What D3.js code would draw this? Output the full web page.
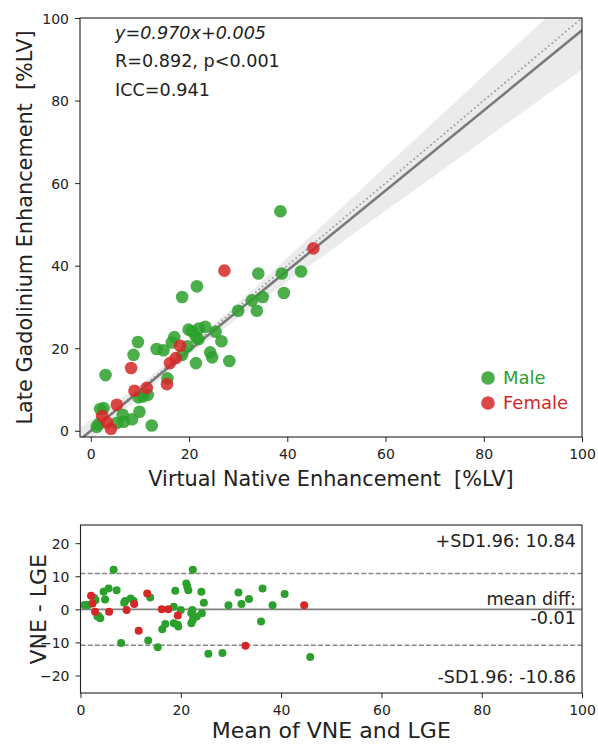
<!DOCTYPE html>
<html>
<head>
<meta charset="utf-8">
<script src="https://cdn.jsdelivr.net/npm/d3@7"></script>
<style>
  body { margin: 0; background: #fff; }
  svg { display: block; font-family: "DejaVu Sans", sans-serif; }
</style>
</head>
<body>
<div id="chart"></div>
<script>
// Values

// Correlation panel: [VNE, LGE]
const maleTop = [
  [21.6, 35.0], [18.6, 32.4], [39.3, 33.4], [32.8, 31.6], [35.0, 32.4], [30.0, 29.1],
  [33.8, 29.1], [9.6, 21.5], [8.7, 18.4], [3.0, 13.5], [13.4, 19.8], [14.8, 19.5],
  [17.0, 22.7], [16.5, 21.4], [19.9, 24.5], [20.6, 24.1], [22.0, 24.8], [23.3, 25.2],
  [25.4, 24.0], [26.6, 21.7], [21.4, 22.7], [21.9, 22.2], [19.7, 20.5], [18.6, 18.4],
  [24.3, 19.0], [24.7, 17.8], [21.4, 16.4], [28.2, 16.9], [15.6, 12.7], [9.7, 8.1],
  [11.6, 8.7], [10.6, 8.3], [1.9, 5.3], [2.6, 5.5], [6.5, 3.9], [8.4, 2.8],
  [9.9, 4.6], [12.4, 1.3], [1.2, 1.0], [5.3, 1.9], [6.7, 2.2], [1.6, 1.6],
  [38.6, 53.2], [34.1, 38.1], [38.9, 38.1], [42.8, 38.6]
];
const femaleTop = [
  [18.2, 20.6], [17.3, 17.6], [16.1, 16.4], [8.2, 15.2], [8.9, 9.7], [11.4, 10.4],
  [15.5, 11.3], [5.3, 6.3], [2.3, 3.6], [3.3, 2.0], [4.1, 0.5], [27.2, 38.8], [45.3, 44.2]
];

// Fit shown in the panel
const fitSlope = 0.970;
const fitIntercept = 0.005;
const fitRange = [-2.2, 100];

// Confidence band edges [VNE, lower, upper]
const bandEdges = [
  [-2.2, -4.66, 0.77], [10, 8.35, 11.18], [20, 18.38, 20.45], [30, 27.4, 31.0],
  [40, 36.1, 41.9], [50, 44.7, 52.9], [60, 53.3, 64.0], [70, 61.8, 75.0],
  [80, 70.4, 86.0], [90, 79.0, 97.1], [100, 87.5, 108.1]
];

// Bland-Altman panel: [mean, difference]
const maleBA = [
  [0.8, 1.3], [1.5, 1.3], [2.7, 3.5], [3.0, 2.8], [3.4, -2.2], [3.95, -2.7], [3.6, -2.0],
  [4.6, 5.3], [4.9, 3.0], [5.6, 6.3], [7.2, 5.8], [6.6, 12.0], [8.1, -10.2], [8.9, 2.5],
  [8.7, 2.0], [10.0, 3.3], [10.6, 2.5], [13.9, 3.6], [13.5, -9.4], [15.4, -11.5],
  [16.3, -6.0], [16.9, -4.4], [18.9, 5.6], [18.6, 0.8], [18.6, -4.2], [19.4, -4.7],
  [19.5, -5.2], [20.0, -0.2], [21.1, 7.8], [21.3, 6.8], [21.5, 5.8], [22.1, -1.2],
  [22.3, -0.2], [22.1, -4.2], [22.4, -3.2], [23.2, -2.2], [24.2, -1.2], [24.1, 5.3],
  [24.6, 2.0], [22.4, 12.0], [25.5, -13.4], [28.3, -13.2], [29.5, 1.2], [31.5, 5.1],
  [32.1, 1.6], [33.6, 3.1], [36.0, -3.7], [36.3, 6.3], [38.3, 1.2], [40.7, 4.6], [45.8, -14.4]
];
const femaleBA = [
  [2.1, 4.1], [2.4, 1.8], [2.9, -0.7], [5.7, -0.7], [9.2, -0.2], [10.7, 1.6], [13.3, 4.8],
  [11.6, -6.5], [16.2, 0.0], [17.5, 0.0], [19.4, -1.9], [32.9, -11.0], [44.6, 1.2]
];
const meanDiff = -0.01;
const upperLoA = 10.84;
const lowerLoA = -10.86;

const axisTicks = [0, 20, 40, 60, 80, 100];
const diffTicks = [-20, -10, 0, 10, 20];

const green = "#2ca02c";
const red = "#d62728";

// matplotlib-like tick styling
function styleAxis(g, horizontal) {
  g.attr("font-size", 14)
    .attr("font-family", "DejaVu Sans, sans-serif");
  g.select(".domain").remove();
  g.selectAll(".tick line").attr("stroke", "#222");
  g.selectAll(".tick text").attr("fill", "#222");
  if (horizontal) {
    g.selectAll(".tick text").attr("y", 22).attr("dy", 0);
  } else {
    g.selectAll(".tick text").attr("x", -11).attr("dy", "0.36em");
  }
}

function drawFigure(width, height, selector) {

  let svg = d3.select(selector)
    .append("svg")
    .attr("width", width)
    .attr("height", height);

  ///////////////////////////////
  //// Correlation panel ////////
  ///////////////////////////////

  let top = { left: 80, right: 582, top: 18, bottom: 437 };

  let xScale = d3.scaleLinear()
    .domain([-2.2, 100])
    .range([top.left, top.right]);

  let yScale = d3.scaleLinear()
    .domain([-1.5, 100])
    .range([top.bottom, top.top]);

  svg.append("clipPath")
    .attr("id", "clip-top")
    .append("rect")
    .attr("x", top.left)
    .attr("y", top.top)
    .attr("width", top.right - top.left)
    .attr("height", top.bottom - top.top);

  let plot = svg.append("g").attr("clip-path", "url(#clip-top)");

  // confidence band
  let band = d3.area()
    .x(d => xScale(d[0]))
    .y0(d => yScale(d[1]))
    .y1(d => yScale(d[2]));

  plot.append("path")
    .attr("d", band(bandEdges))
    .attr("fill", "#ebebeb");

  // identity line
  plot.append("line")
    .attr("x1", xScale(-2.2))
    .attr("y1", yScale(-2.2))
    .attr("x2", xScale(100))
    .attr("y2", yScale(100))
    .attr("stroke", "#a0a0a0")
    .attr("stroke-width", 1.8)
    .attr("stroke-dasharray", "1.8,2.6");

  // fitted line
  plot.append("line")
    .attr("x1", xScale(fitRange[0]))
    .attr("y1", yScale(fitSlope * fitRange[0] + fitIntercept))
    .attr("x2", xScale(fitRange[1]))
    .attr("y2", yScale(fitSlope * fitRange[1] + fitIntercept))
    .attr("stroke", "#7a7a7a")
    .attr("stroke-width", 2.6);

  plot.selectAll(".male-top")
    .data(maleTop)
    .join("circle")
    .attr("cx", d => xScale(d[0]))
    .attr("cy", d => yScale(d[1]))
    .attr("r", 6.3)
    .attr("fill", green)
    .attr("fill-opacity", 0.85);

  plot.selectAll(".female-top")
    .data(femaleTop)
    .join("circle")
    .attr("cx", d => xScale(d[0]))
    .attr("cy", d => yScale(d[1]))
    .attr("r", 6.3)
    .attr("fill", red)
    .attr("fill-opacity", 0.85);

  // axes
  let xAxis = d3.axisBottom(xScale)
    .tickValues(axisTicks)
    .tickSize(5)
    .tickSizeOuter(0);

  svg.append("g")
    .attr("transform", "translate(0," + top.bottom + ")")
    .call(xAxis)
    .call(g => styleAxis(g, true));

  let yAxis = d3.axisLeft(yScale)
    .tickValues(axisTicks)
    .tickSize(5)
    .tickSizeOuter(0);

  svg.append("g")
    .attr("transform", "translate(" + top.left + ",0)")
    .call(yAxis)
    .call(g => styleAxis(g, false));

  svg.append("rect")
    .attr("x", top.left)
    .attr("y", top.top)
    .attr("width", top.right - top.left)
    .attr("height", top.bottom - top.top)
    .attr("fill", "none")
    .attr("stroke", "#222")
    .attr("stroke-width", 1.1);

  // labels
  svg.append("text")
    .text("Virtual Native Enhancement  [%LV]")
    .attr("x", (top.left + top.right) / 2)
    .attr("y", 485.5)
    .attr("text-anchor", "middle")
    .attr("font-size", "20.8px")
    .attr("fill", "#222")
    .style("white-space", "pre");

  svg.append("text")
    .text("Late Gadolinium Enhancement  [%LV]")
    .attr("transform", "translate(32," + (top.top + top.bottom) / 2 + ") rotate(-90)")
    .attr("text-anchor", "middle")
    .attr("font-size", "20.8px")
    .attr("fill", "#222")
    .style("white-space", "pre");

  let notes = [
    { text: "y=0.970x+0.005", y: 38.5, italic: true },
    { text: "R=0.892, p<0.001", y: 67.3, italic: false },
    { text: "ICC=0.941", y: 96, italic: false }
  ];
  svg.selectAll(".note")
    .data(notes)
    .join("text")
    .attr("x", 115)
    .attr("y", d => d.y)
    .attr("font-size", "17.6px")
    .attr("font-style", d => d.italic ? "italic" : "normal")
    .attr("fill", "#222")
    .text(d => d.text);

  // legend
  let legend = [
    { label: "Male", color: green, y: 378 },
    { label: "Female", color: red, y: 403 }
  ];
  let lg = svg.selectAll(".legend")
    .data(legend)
    .join("g");
  lg.append("circle")
    .attr("cx", 488)
    .attr("cy", d => d.y)
    .attr("r", 6.8)
    .attr("fill", d => d.color)
    .attr("fill-opacity", 0.85);
  lg.append("text")
    .attr("x", 503)
    .attr("y", d => d.y + 6.3)
    .attr("font-size", "18px")
    .attr("fill", d => d.color)
    .text(d => d.label);

  ///////////////////////////////
  //// Bland-Altman panel ///////
  ///////////////////////////////

  let bot = { left: 80.5, right: 582, top: 525, bottom: 693 };

  let mScale = d3.scaleLinear()
    .domain([0, 100])
    .range([bot.left, bot.right]);

  let dScale = d3.scaleLinear()
    .domain([-25.3, 25.5])
    .range([bot.bottom, bot.top]);

  svg.append("clipPath")
    .attr("id", "clip-bot")
    .append("rect")
    .attr("x", bot.left)
    .attr("y", bot.top)
    .attr("width", bot.right - bot.left)
    .attr("height", bot.bottom - bot.top);

  let ba = svg.append("g").attr("clip-path", "url(#clip-bot)");

  ba.append("line")
    .attr("x1", bot.left).attr("x2", bot.right)
    .attr("y1", dScale(meanDiff)).attr("y2", dScale(meanDiff))
    .attr("stroke", "#808080")
    .attr("stroke-width", 1.6);

  ba.selectAll(".loa")
    .data([upperLoA, lowerLoA])
    .join("line")
    .attr("x1", bot.left).attr("x2", bot.right)
    .attr("y1", d => dScale(d)).attr("y2", d => dScale(d))
    .attr("stroke", "#888")
    .attr("stroke-width", 1.3)
    .attr("stroke-dasharray", "5,2.2");

  ba.selectAll(".male-ba")
    .data(maleBA)
    .join("circle")
    .attr("cx", d => mScale(d[0]))
    .attr("cy", d => dScale(d[1]))
    .attr("r", 4)
    .attr("fill", green);

  ba.selectAll(".female-ba")
    .data(femaleBA)
    .join("circle")
    .attr("cx", d => mScale(d[0]))
    .attr("cy", d => dScale(d[1]))
    .attr("r", 4)
    .attr("fill", red);

  let mAxis = d3.axisBottom(mScale)
    .tickValues(axisTicks)
    .tickSize(5)
    .tickSizeOuter(0);

  svg.append("g")
    .attr("transform", "translate(0," + bot.bottom + ")")
    .call(mAxis)
    .call(g => styleAxis(g, true));

  let dAxis = d3.axisLeft(dScale)
    .tickValues(diffTicks)
    .tickSize(5)
    .tickSizeOuter(0)
    .tickFormat(d => d3.format("d")(d).replace("-", "\u2212"));

  svg.append("g")
    .attr("transform", "translate(" + bot.left + ",0)")
    .call(dAxis)
    .call(g => styleAxis(g, false));

  svg.append("rect")
    .attr("x", bot.left)
    .attr("y", bot.top)
    .attr("width", bot.right - bot.left)
    .attr("height", bot.bottom - bot.top)
    .attr("fill", "none")
    .attr("stroke", "#222")
    .attr("stroke-width", 1.1);

  let baNotes = [
    { text: "+SD1.96: " + upperLoA.toFixed(2), y: 547 },
    { text: "mean diff:", y: 605 },
    { text: meanDiff.toFixed(2), y: 624 },
    { text: "-SD1.96: " + lowerLoA.toFixed(2), y: 683 }
  ];
  svg.selectAll(".ba-note")
    .data(baNotes)
    .join("text")
    .attr("x", 576)
    .attr("y", d => d.y)
    .attr("text-anchor", "end")
    .attr("font-size", "17.6px")
    .attr("fill", "#222")
    .text(d => d.text);

  svg.append("text")
    .text("Mean of VNE and LGE")
    .attr("x", (bot.left + bot.right) / 2)
    .attr("y", 738)
    .attr("text-anchor", "middle")
    .attr("font-size", "22px")
    .attr("fill", "#222");

  svg.append("text")
    .text("VNE - LGE")
    .attr("transform", "translate(46," + dScale(0) + ") rotate(-90)")
    .attr("text-anchor", "middle")
    .attr("font-size", "22px")
    .attr("fill", "#222");
}

drawFigure(598, 744, "#chart");
</script>
</body>
</html>
